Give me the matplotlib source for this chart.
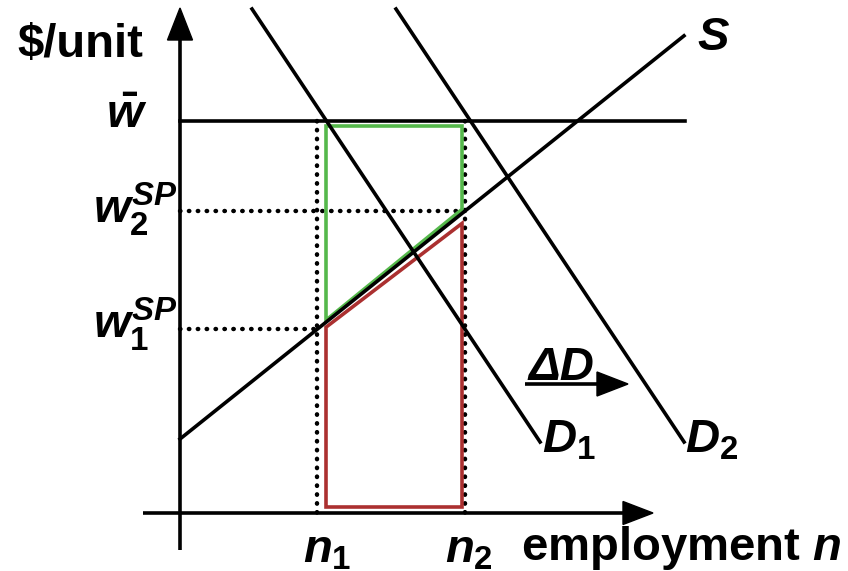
import matplotlib
matplotlib.use("Agg")
import matplotlib.pyplot as plt
from matplotlib.patches import Polygon

plt.rcParams['font.family'] = ['Liberation Sans', 'DejaVu Sans']
plt.rcParams['mathtext.fontset'] = 'custom'
plt.rcParams['mathtext.rm'] = 'Liberation Sans:bold'
plt.rcParams['mathtext.it'] = 'Liberation Sans:bold:italic'
plt.rcParams['mathtext.bf'] = 'Liberation Sans:bold'

# ---- model values (diagram units, origin at axes crossing) ----
w_bar = 392            # minimum wage level
s_intercept = 74       # supply curve intercept
s_slope = 0.8          # supply curve slope
d1_top = (72, 504)     # demand curve D1 start
d2_top = (216, 504)    # demand curve D2 start
d_slope = -1.503       # demand slope
d_bottom = 71          # demand curves end height
n1 = 137               # employment n1
n2 = 285               # employment n2
s_end = 504            # supply curve end x
wbar_end = 505         # wage floor line end x


def S(x):
    return s_intercept + s_slope * x


def D_end(top):
    return (top[0] + (d_bottom - top[1]) / d_slope, d_bottom)


w1 = S(n1)
w2 = S(n2)

fig = plt.figure(figsize=(8.48, 5.71), dpi=100)
ax = fig.add_axes([0, 0, 1, 1])
ax.set_xlim(-180, 668)
ax.set_ylim(-58, 513)
ax.axis('off')

lw = 2.6
FS = 34

# axes
ax.plot([0, 0], [-37, 480], color='black', lw=lw, solid_capstyle='butt', zorder=3)
ax.add_patch(Polygon([(0, 505), (-12.5, 473), (12.5, 473)], closed=True, color='black', zorder=3))
ax.plot([-37, 450], [0, 0], color='black', lw=lw, solid_capstyle='butt', zorder=3)
ax.add_patch(Polygon([(473, 0), (443, 11.5), (443, -11.5)], closed=True, color='black', zorder=3))

# dotted guides
dot = dict(color='black', lw=3.2, linestyle=(0, (0.1, 1.9)), dash_capstyle='round', zorder=1)
ax.plot([n1, n1], [w_bar, 0], **dot)
ax.plot([n2, n2], [w_bar, 0], **dot)
ax.plot([0, n2], [w2, w2], **dot)
ax.plot([0, n1], [w1, w1], **dot)

# shaded-region outlines
xl = n1 + 9
xr = n2 - 3
green = [(xl, S(xl) + 2), (xl, w_bar - 5), (xr, w_bar - 5), (xr, S(xr) + 4)]
red = [(xl, S(xl) - 5), (xl, 6), (xr, 6), (xr, S(xr) - 10)]
ax.add_patch(Polygon(green, closed=True, fill=False, edgecolor='#55b84b', lw=lw, zorder=2, joinstyle='miter'))
ax.add_patch(Polygon(red, closed=True, fill=False, edgecolor='#ab3030', lw=lw, zorder=2, joinstyle='miter'))

# curves
ax.plot([0, wbar_end], [w_bar, w_bar], color='black', lw=lw, zorder=3)
ax.plot([0, s_end], [S(0), S(s_end)], color='black', lw=lw, zorder=3)
for top in (d1_top, d2_top):
    e = D_end(top)
    ax.plot([top[0], e[0]], [top[1], e[1]], color='black', lw=lw, zorder=3)

# delta-D arrow
ax.plot([345, 420], [129, 129], color='black', lw=lw, solid_capstyle='butt', zorder=3)
ax.add_patch(Polygon([(448, 129), (417, 141), (417, 117)], closed=True, color='black', zorder=3))

# texts
ax.text(-163, 456, '$/unit', fontsize=FS, fontweight='bold', ha='left', va='baseline')
ax.text(-33, 385, r'$\bar{w}$', fontsize=FS, ha='right', va='baseline')
ax.text(-2, 290, r'$w_2^{SP}$', fontsize=FS, ha='right', va='baseline')
ax.text(-2, 175, r'$w_1^{SP}$', fontsize=FS, ha='right', va='baseline')
ax.text(123, -49, r'$n_1$', fontsize=FS, ha='left', va='baseline')
ax.text(265, -49, r'$n_2$', fontsize=FS, ha='left', va='baseline')
ax.text(341, -47, r'employment $n$', fontsize=FS, fontweight='bold', ha='left', va='baseline')
ax.text(517, 463, 'S', fontsize=FS, fontweight='bold', fontstyle='italic', ha='left', va='baseline')
ax.text(362, 61, r'$D_1$', fontsize=FS, ha='left', va='baseline')
ax.text(505, 61, r'$D_2$', fontsize=FS, ha='left', va='baseline')
ax.text(348, 133, 'ΔD', fontsize=FS, fontweight='bold', fontstyle='italic', ha='left', va='baseline')

fig.savefig('out.png', dpi=100)
